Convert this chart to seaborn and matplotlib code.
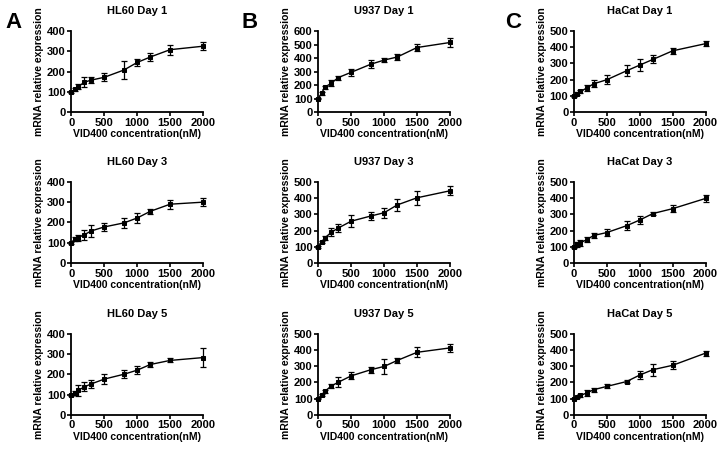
import pandas as pd
import numpy as np
import matplotlib
matplotlib.use("Agg")
import matplotlib.pyplot as plt
import seaborn as sns

# VID400 concentrations (nM)
conc = [0, 50, 100, 200, 300, 500, 800, 1000, 1200, 1500, 2000]

# HL60
hl60_d1_mean = [100, 112, 125, 148, 158, 172, 208, 245, 272, 308, 325]
hl60_d1_err = [5, 8, 12, 25, 15, 20, 45, 15, 18, 25, 20]
hl60_d3_mean = [100, 118, 125, 140, 158, 178, 198, 222, 255, 290, 300]
hl60_d3_err = [5, 10, 15, 25, 30, 20, 25, 25, 12, 22, 20]
hl60_d5_mean = [100, 108, 120, 138, 152, 176, 200, 220, 248, 268, 282]
hl60_d5_err = [5, 10, 25, 22, 20, 25, 20, 20, 12, 10, 48]

# U937
u937_d1_mean = [100, 140, 185, 215, 255, 295, 355, 385, 408, 478, 515]
u937_d1_err = [5, 10, 12, 20, 15, 25, 30, 12, 25, 25, 30]
u937_d3_mean = [100, 130, 155, 190, 215, 258, 290, 310, 358, 402, 445]
u937_d3_err = [5, 8, 12, 25, 25, 35, 25, 30, 35, 42, 28]
u937_d5_mean = [100, 122, 145, 178, 200, 240, 278, 298, 335, 385, 412]
u937_d5_err = [5, 8, 10, 12, 30, 22, 18, 45, 15, 30, 25]

# HaCat
hacat_d1_mean = [100, 115, 128, 150, 175, 200, 255, 290, 325, 378, 422]
hacat_d1_err = [5, 8, 10, 18, 22, 28, 35, 35, 25, 18, 15]
hacat_d3_mean = [100, 115, 125, 145, 170, 188, 230, 265, 305, 335, 398]
hacat_d3_err = [5, 15, 20, 15, 18, 20, 28, 25, 12, 22, 22]
hacat_d5_mean = [100, 110, 120, 135, 155, 175, 205, 245, 278, 305, 380]
hacat_d5_err = [5, 8, 10, 20, 12, 12, 8, 25, 38, 25, 15]

panels = [
    # column 0
    [("HL60 Day 1", hl60_d1_mean, hl60_d1_err, 400),
     ("HL60 Day 3", hl60_d3_mean, hl60_d3_err, 400),
     ("HL60 Day 5", hl60_d5_mean, hl60_d5_err, 400)],
    # column 1
    [("U937 Day 1", u937_d1_mean, u937_d1_err, 600),
     ("U937 Day 3", u937_d3_mean, u937_d3_err, 500),
     ("U937 Day 5", u937_d5_mean, u937_d5_err, 500)],
    # column 2
    [("HaCat Day 1", hacat_d1_mean, hacat_d1_err, 500),
     ("HaCat Day 3", hacat_d3_mean, hacat_d3_err, 500),
     ("HaCat Day 5", hacat_d5_mean, hacat_d5_err, 500)],
]
letters = ["A", "B", "C"]
letter_x = [0.007, 0.336, 0.701]

sns.set_theme(style="ticks")
plt.rcParams["font.family"] = ["Liberation Sans", "DejaVu Sans"]
plt.rcParams["font.weight"] = "bold"
for k in ["text.color", "axes.labelcolor", "xtick.color", "ytick.color"]:
    plt.rcParams[k] = "black"

fig = plt.figure(figsize=(7.2, 4.49), dpi=100)

col_left = [0.099, 0.442, 0.797]
row_bottom = [0.750, 0.414, 0.076]
ax_w, ax_h = 0.183, 0.181

for c, col in enumerate(panels):
    for r, (title, mean, err, ymax) in enumerate(col):
        ax = fig.add_axes([col_left[c], row_bottom[r], ax_w, ax_h])
        df = pd.DataFrame({"conc": conc, "expr": mean})
        sns.lineplot(data=df, x="conc", y="expr", ax=ax, color="black",
                     linewidth=1.0, marker="s", markersize=3.0,
                     markeredgecolor="black", clip_on=False)
        ax.errorbar(conc, mean, yerr=err, fmt="none", ecolor="black",
                    elinewidth=0.9, capsize=2, capthick=0.9, clip_on=False)
        ax.set_xlim(0, 2000)
        ax.set_ylim(0, ymax)
        ax.set_xticks([0, 500, 1000, 1500, 2000])
        ax.set_yticks(np.arange(0, ymax + 1, 100))
        sns.despine(ax=ax)
        for s in ["left", "bottom"]:
            ax.spines[s].set_linewidth(1.3)
            ax.spines[s].set_color("black")
        ax.tick_params(axis="both", labelsize=8, width=1.2, length=3,
                       pad=1, color="black", direction="out")
        for lab in ax.get_xticklabels() + ax.get_yticklabels():
            lab.set_fontweight("bold")
        ax.set_title(title, fontsize=8, fontweight="bold", pad=12)
        ax.set_xlabel("VID400 concentration(nM)", fontsize=7.5,
                      fontweight="bold", labelpad=1)
        ax.set_ylabel("mRNA relative expression", fontsize=7.5,
                      fontweight="bold", labelpad=2)
    fig.text(letter_x[c], 0.949, letters[c], fontsize=16,
             fontweight="bold", ha="left", va="center")

fig.savefig("out.png", dpi=100)
